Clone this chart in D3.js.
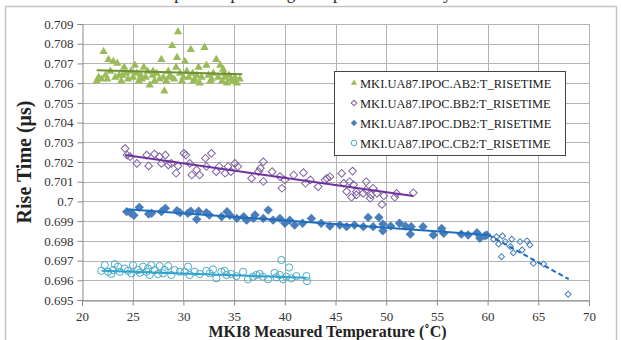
<!DOCTYPE html>
<html>
<head>
<meta charset="utf-8">
<script src="https://cdn.jsdelivr.net/npm/d3@7"></script>
<style>
  body { margin: 0; background: #fff; }
  svg text { font-family: "Liberation Serif", "Times New Roman", serif; }
</style>
</head>
<body>
<svg id="chart" width="621" height="340"></svg>
<script>
// axis ticks
const xTicks = [20, 25, 30, 35, 40, 45, 50, 55, 60, 65, 70];
const yTicks = [0.695, 0.696, 0.697, 0.698, 0.699, 0.7, 0.701, 0.702, 0.703, 0.704, 0.705, 0.706, 0.707, 0.708, 0.709];

const seriesNames = ['MKI.UA87.IPOC.AB2:T_RISETIME', 'MKI.UA87.IPOC.BB2:T_RISETIME',
  'MKI.UA87.IPOC.DB2:T_RISETIME', 'MKI.UA87.IPOC.CB2:T_RISETIME'];

// [temperature, rise time]
const ab2 = [[21.45,0.7061],[21.64,0.7063],[21.93,0.7062],[22.13,0.7076],[22.32,0.7064],[22.61,0.7072],[22.8,0.7066],
  [23.09,0.7071],[23.29,0.7063],[23.48,0.7070],[23.67,0.7064],[23.87,0.7061],[24.16,0.7068],[24.35,0.7065],[24.54,0.7062],
  [24.83,0.7066],[25.03,0.7063],[25.22,0.7069],[25.41,0.7065],[25.61,0.7061],[25.8,0.7064],[26.09,0.7068],[26.28,0.7063],
  [26.48,0.7066],[26.67,0.7059],[26.96,0.7064],[27.15,0.7061],[27.35,0.7065],[27.64,0.7062],[27.83,0.7072],[28.02,0.7063],
  [28.12,0.7056],[28.31,0.7061],[28.51,0.7066],[28.7,0.7064],[28.89,0.7079],[29.09,0.7062],[29.28,0.7068],[29.37,0.7073],
  [29.47,0.7086],[29.67,0.7065],[29.86,0.7061],[30.15,0.7071],[30.34,0.7066],[30.53,0.7063],[30.73,0.7077],[30.92,0.7065],
  [31.11,0.7062],[31.31,0.7064],[31.5,0.7068],[31.6,0.7060],[31.79,0.7063],[32.08,0.7078],[32.27,0.7069],[32.47,0.7064],
  [32.66,0.7061],[32.95,0.7065],[33.24,0.7072],[33.43,0.7063],[33.63,0.7069],[33.82,0.7061],[33.92,0.7067],[34.11,0.7063],
  [34.3,0.7060],[34.5,0.7064],[34.69,0.7062],[34.88,0.7061],[35.08,0.7063],[35.27,0.7060],[35.56,0.7062],
  [22.5,0.7062],[24.0,0.7064],[25.9,0.7062],[27.0,0.7066],[28.6,0.7063],[30.0,0.7063],[31.0,0.7061],[32.8,0.7062],[34.0,0.7065],[35.0,0.7061]];

const bb2 = [[24.25,0.70269],[24.45,0.70235],[24.74,0.70227],[25.41,0.70193],[26.38,0.70235],[26.57,0.7018],[27.15,0.7024],
  [27.64,0.70227],[28.22,0.70235],[27.83,0.70193],[28.51,0.70185],[28.8,0.70193],[29.28,0.70143],[29.47,0.7018],[30.05,0.70244],
  [30.24,0.70235],[30.63,0.70193],[30.82,0.70134],[31.31,0.7016],[31.6,0.70134],[32.18,0.70219],[32.27,0.70177],[32.76,0.70244],
  [33.24,0.70151],[33.53,0.70177],[34.11,0.70143],[34.4,0.70177],[34.69,0.70151],[35.08,0.70193],[35.37,0.70177],[36.72,0.70117],
  [37.4,0.70151],[37.59,0.70168],[37.88,0.70201],[37.88,0.70101],[38.75,0.70151],[39.52,0.70126],[39.72,0.70067],[40.01,0.70109],
  [40.88,0.70134],[41.84,0.70146],[42.04,0.70092],[42.52,0.70109],[43.29,0.70075],[43.97,0.70109],[44.16,0.70117],[44.45,0.70125],
  [45.61,0.70142],[45.81,0.70092],[46.1,0.7005],[46.39,0.701],[46.58,0.70021],[46.68,0.70154],[46.78,0.70084],[47.06,0.70049],
  [47.06,0.70033],[47.74,0.70041],[48.03,0.701],[48.03,0.70058],[48.42,0.70016],[48.51,0.70033],[48.71,0.70067],[49.09,0.70041],
  [49.58,0.69985],[49.77,0.70029],[50.84,0.70021],[51.02,0.70041],[52.67,0.70044]];

const db2 = [[24.41,0.69948],[24.83,0.6994],[25.12,0.6993],[25.65,0.6997],[26.57,0.69936],[26.86,0.6994],[27.83,0.69948],
  [28.22,0.69965],[29.37,0.69953],[29.67,0.69943],[30.44,0.6994],[30.73,0.6995],[31.31,0.69909],[31.5,0.6995],[32.27,0.69943],
  [32.56,0.69931],[33.77,0.69922],[34.3,0.69948],[34.59,0.6993],[35.27,0.69914],[35.95,0.69922],[36.24,0.69905],[36.91,0.69914],
  [37.06,0.69931],[37.88,0.69914],[38.36,0.69956],[38.85,0.69905],[39.52,0.69914],[40.01,0.69889],[40.49,0.69905],[40.97,0.6988],
  [41.75,0.69889],[42.62,0.69914],[43.58,0.69889],[44.45,0.69875],[45.42,0.6988],[46.1,0.69872],[46.87,0.6988],[47.74,0.69872],
  [48.22,0.69919],[48.71,0.69872],[49.28,0.69919],[49.67,0.69851],[49.67,0.69885],[50.44,0.69875],[51.31,0.69889],[51.9,0.69875],
  [52.38,0.69834],[52.47,0.69872],[53.63,0.69872],[54.65,0.6983],[55.47,0.69863],[55.67,0.69838],[57.41,0.69834],[58.08,0.6983],
  [58.95,0.69841],[59.24,0.69813],[59.72,0.69825],[59.92,0.6983]];

// high temperature points of DB2 (open markers, not in legend)
const db2High = [[60.59,0.69808],[60.88,0.69821],[61.08,0.69784],[61.46,0.69825],[61.75,0.69796],[61.37,0.69719],[62.38,0.69808],
  [62.24,0.69771],[62.53,0.6974],[63.2,0.69796],[63.4,0.69754],[63.88,0.698],[64.17,0.69779],[64.51,0.69686],[65.53,0.69682],[67.94,0.69529]];

const cb2 = [[22.24,0.69677],[22.57,0.69643],[23.23,0.69682],[23.06,0.69652],[22.9,0.69632],[23.72,0.69643],[24.21,0.6966],
  [24.54,0.69648],[25.03,0.69677],[24.87,0.69635],[25.53,0.69652],[26.02,0.69669],[26.35,0.69643],[26.84,0.69677],[26.68,0.69627],
  [27.17,0.69652],[27.66,0.69672],[27.5,0.69632],[28.16,0.69652],[28.49,0.69672],[28.81,0.69627],[29.64,0.69643],[30.46,0.69669],
  [30.62,0.69627],[31.11,0.69643],[31.61,0.69632],[32.27,0.69648],[32.92,0.69655],[33.25,0.6961],[33.75,0.69643],[34.07,0.69648],
  [34.73,0.69632],[35.22,0.69621],[35.88,0.69643],[36.37,0.69605],[37.2,0.69627],[37.52,0.69632],[37.85,0.69618],[38.35,0.69605],
  [39.0,0.69638],[39.5,0.69627],[39.66,0.69703],[39.83,0.69605],[40.15,0.69618],[40.42,0.69665],[40.65,0.6961],[41.14,0.69621],
  [42.13,0.69621],[42.19,0.69596],[21.9,0.69648],[23.55,0.69669],[25.69,0.69638],[26.51,0.6966],[27.99,0.69635],[29.14,0.69652],
  [30.13,0.69643],[32.6,0.69635],[34.24,0.69627],[36.87,0.69618],[39.17,0.69615]];

// linear trendlines [x0, y0, x1, y1]
const trendAB2 = [21.45, 0.70665, 35.8, 0.70645];
const trendBB2 = [24.25, 0.70235, 52.67, 0.70027];
const trendDB2 = [24.41, 0.6996, 60.07, 0.6983];
const trendDB2High = [60.07, 0.6983, 68.0, 0.69606];
const trendCB2 = [21.93, 0.69648, 42.13, 0.69613];

const svg = d3.select('#chart');

// line of the page text above the chart, mostly cut off by the top edge
svg.append('text').attr('x', 2).attr('y', -1)
  .attr('font-size', 17).attr('fill', '#222')
  .text('was not measured with a pico scope during the operation of the system.');

svg.append('rect').attr('x', 5.5).attr('y', 6.5).attr('width', 611).attr('height', 340)
  .attr('fill', '#fff').attr('stroke', '#c4c4c4').attr('stroke-width', 1.5);

const x = d3.scaleLinear().domain([20, 70]).range([82, 589]);
const y = d3.scaleLinear().domain([0.695, 0.709]).range([300, 24]);

// grid
svg.append('g').selectAll('line').data(yTicks).enter().append('line')
  .attr('x1', x(20)).attr('x2', x(70))
  .attr('y1', d => Math.round(y(d)) + 0.5).attr('y2', d => Math.round(y(d)) + 0.5)
  .attr('stroke', '#b4b4b4');
svg.append('g').selectAll('line').data(xTicks.slice(1)).enter().append('line')
  .attr('x1', d => Math.round(x(d)) + 0.5).attr('x2', d => Math.round(x(d)) + 0.5)
  .attr('y1', y(0.709)).attr('y2', y(0.695))
  .attr('stroke', '#b4b4b4');

// axes
const yAxis = svg.append('g').attr('transform', 'translate(' + (Math.round(x(20)) + 0.5) + ',0)')
  .call(d3.axisLeft(y).tickValues(yTicks).tickSize(5).tickPadding(4).tickFormat(d => String(+d.toFixed(3))));
const xAxis = svg.append('g').attr('transform', 'translate(0,' + (Math.round(y(0.695)) + 0.5) + ')')
  .call(d3.axisBottom(x).tickValues(xTicks).tickSize(5).tickPadding(6));
[xAxis, yAxis].forEach(a => {
  a.attr('font-family', null).attr('font-size', null);
  a.select('.domain').attr('stroke', '#888');
  a.selectAll('.tick line').attr('stroke', '#888');
  a.selectAll('.tick text').attr('font-size', 13).attr('fill', '#333');
});

// markers
const diamond = d3.symbol().type(d3.symbolSquare);
const plot = svg.append('g');

plot.append('g').selectAll('path').data(ab2).enter().append('path')
  .attr('d', d3.symbol().type(d3.symbolTriangle).size(30))
  .attr('transform', d => 'translate(' + x(d[0]) + ',' + y(d[1]) + ')')
  .attr('fill', '#9bbb59');

plot.append('g').selectAll('path').data(bb2).enter().append('path')
  .attr('d', diamond.size(30)())
  .attr('transform', d => 'translate(' + x(d[0]) + ',' + y(d[1]) + ') rotate(45)')
  .attr('fill', 'none').attr('stroke', '#8064a2').attr('stroke-width', 1);

plot.append('g').selectAll('path').data(db2).enter().append('path')
  .attr('d', diamond.size(44)())
  .attr('transform', d => 'translate(' + x(d[0]) + ',' + y(d[1]) + ') rotate(45)')
  .attr('fill', '#4a7ebb');

plot.append('g').selectAll('path').data(db2High).enter().append('path')
  .attr('d', diamond.size(18)())
  .attr('transform', d => 'translate(' + x(d[0]) + ',' + y(d[1]) + ') rotate(45)')
  .attr('fill', 'none').attr('stroke', '#4a7ebb').attr('stroke-width', 1);

plot.append('g').selectAll('circle').data(cb2).enter().append('circle')
  .attr('cx', d => x(d[0])).attr('cy', d => y(d[1])).attr('r', 3.6)
  .attr('fill', 'none').attr('stroke', '#4bacc6').attr('stroke-width', 1);

// trendlines
function trend(t, color, dash) {
  plot.append('line')
    .attr('x1', x(t[0])).attr('y1', y(t[1])).attr('x2', x(t[2])).attr('y2', y(t[3]))
    .attr('stroke', color).attr('stroke-width', 2)
    .attr('stroke-dasharray', dash || null);
}
trend(trendAB2, '#6e8f34');
trend(trendBB2, '#7030a0');
trend(trendDB2, '#1f6dbf');
trend(trendDB2High, '#1f6dbf', '5,3');
trend(trendCB2, '#2ea3d3');

// axis titles
svg.append('text').attr('transform', 'translate(31,' + y(0.702) + ') rotate(-90)')
  .attr('text-anchor', 'middle').attr('font-size', 20).attr('font-weight', 'bold').attr('fill', '#222')
  .text('Rise Time (μs)');
svg.append('text').attr('x', (x(20) + x(70)) / 2 - 8).attr('y', 337)
  .attr('text-anchor', 'middle').attr('font-size', 16).attr('font-weight', 'bold').attr('fill', '#222')
  .text('MKI8 Measured Temperature (˚C)');

// legend
const legend = svg.append('g').attr('transform', 'translate(334,71)');
legend.append('rect').attr('x', 0.5).attr('y', 0.5).attr('width', 231).attr('height', 84)
  .attr('fill', '#fff').attr('stroke', '#444');
const legendMarks = [
  g => g.append('path').attr('d', d3.symbol().type(d3.symbolTriangle).size(16)).attr('fill', '#9bbb59'),
  g => g.append('path').attr('d', diamond.size(16)()).attr('transform', 'rotate(45)').attr('fill', 'none').attr('stroke', '#8064a2'),
  g => g.append('path').attr('d', diamond.size(20)()).attr('transform', 'rotate(45)').attr('fill', '#4a7ebb'),
  g => g.append('circle').attr('r', 2.8).attr('fill', 'none').attr('stroke', '#4bacc6')
];
seriesNames.forEach((name, i) => {
  const row = legend.append('g').attr('transform', 'translate(0,' + (12 + i * 20) + ')');
  legendMarks[i](row.append('g').attr('transform', 'translate(20,0)'));
  row.append('text').attr('x', 26).attr('y', 4.5).attr('font-size', 12.5).attr('fill', '#222').text(name);
});
</script>
</body>
</html>
